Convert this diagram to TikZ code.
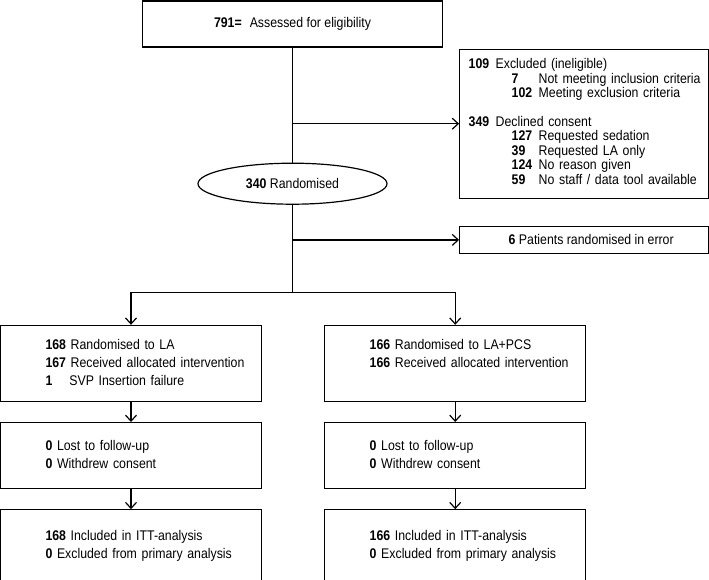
\documentclass[tikz,border=0pt]{standalone}
\usepackage{fontspec}
\setmainfont{Liberation Sans}[FakeStretch=0.88]
\usepackage{tikz}
\usetikzlibrary{positioning, shapes.geometric, arrows.meta}

\newcommand{\armlines}[1]{\begin{tabular}{@{\hspace{45pt}}l@{}}#1\end{tabular}}

\begin{document}
\begin{tikzpicture}[
        x=1pt, y=1pt,
        line width=1.2pt,
        node distance=20pt,
        >={Straight Barb[length=6pt,width=11pt]},
        every node/.style={font=\fontsize{14}{14.3}\selectfont},
        box/.style={rectangle, draw, inner sep=0pt},
        armbox/.style={box, text width=261pt, align=left, font=\fontsize{14}{18}\selectfont},
        oval/.style={ellipse, draw, minimum width=189pt, minimum height=41pt, inner sep=0pt},
    ]
        \useasboundingbox (0,0) rectangle (709,-579);

        \node[box, minimum width=300pt, minimum height=46pt] (assess) at (292.5,-24) {\textbf{791=}\hspace{8pt}Assessed for eligibility};
        \node[oval, below=115pt of assess] (rand) {\textbf{340} Randomised};
        \node[box, anchor=north west, minimum width=249pt, minimum height=149pt, text width=231pt, inner xsep=9pt, align=left] (excl) at ([xshift=16pt, yshift=-1pt]assess.south east) {%
            \begin{tabular}{@{}p{27pt}@{}p{16pt}@{}p{27pt}@{}l@{}}
                \textbf{109} & \multicolumn{3}{@{}l@{}}{Excluded (ineligible)}\\
                & & \textbf{7} & Not meeting inclusion criteria\\
                & & \textbf{102} & Meeting exclusion criteria\\
                & & & \\
                \textbf{349} & \multicolumn{3}{@{}l@{}}{Declined consent}\\
                & & \textbf{127} & Requested sedation\\
                & & \textbf{39} & Requested LA only\\
                & & \textbf{124} & No reason given\\
                & & \textbf{59} & No staff / data tool available
            \end{tabular}};
        \node[box, minimum width=249pt, minimum height=27pt, below=27pt of excl] (err) {\hspace*{14pt}\textbf{6} Patients randomised in error};
        \coordinate[below=88pt of rand] (split);

        % two arms
        \node[armbox, minimum height=76pt, below=120pt of rand, xshift=-161.5pt] (la) {\armlines{\textbf{168} Randomised to LA\\ \textbf{167} Received allocated intervention\\ \makebox[23.9pt][l]{\textbf{1}}SVP Insertion failure}};
        \node[armbox, minimum height=76pt, right=62pt of la] (pcs) {\armlines{\textbf{166} Randomised to LA+PCS\\ \textbf{166} Received allocated intervention\\ \mbox{}}};
        \node[armbox, minimum height=66pt, below=of la] (lafu) {\armlines{\textbf{0} Lost to follow-up\\ \textbf{0} Withdrew consent}};
        \node[armbox, minimum height=66pt, below=of pcs] (pcsfu) {\armlines{\textbf{0} Lost to follow-up\\ \textbf{0} Withdrew consent}};
        \node[armbox, minimum height=73pt, below=of lafu] (laitt) {\armlines{\textbf{168} Included in ITT-analysis\\ \textbf{0} Excluded from primary analysis}};
        \node[armbox, minimum height=73pt, below=of pcsfu] (pcsitt) {\armlines{\textbf{166} Included in ITT-analysis\\ \textbf{0} Excluded from primary analysis}};

        \draw (assess) -- (rand);
        \draw[->] (assess.south |- excl.west) -- (excl.west);
        \draw (rand) -- (split);
        \draw[->] (rand.south |- err.west) -- (err.west);
        \draw[->] (split) -| (la);
        \draw[->] (split) -| (pcs);
        \draw[->] (la) -- (lafu);
        \draw[->] (pcs) -- (pcsfu);
        \draw[->] (lafu) -- (laitt);
        \draw[->] (pcsfu) -- (pcsitt);
    \end{tikzpicture}
\end{document}
